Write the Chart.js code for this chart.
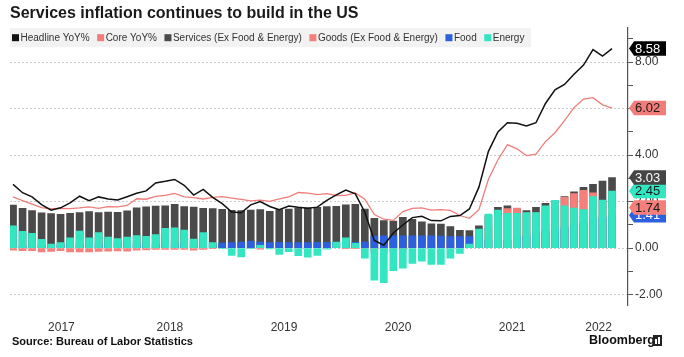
<!DOCTYPE html>
<html>
<head>
<meta charset="utf-8">
<script src="https://cdn.jsdelivr.net/npm/chart.js@4.4.0/dist/chart.umd.min.js"></script>
<style>
html,body{margin:0;padding:0;background:#ffffff;}
#wrap{width:684px;height:357px;position:relative;}
</style>
</head>
<body>
<div id="wrap"><canvas id="c" width="684" height="357"></canvas></div>
<script>
// ---------- DATA ----------
const months = [
  '2017-02','2017-03','2017-04','2017-05','2017-06','2017-07','2017-08','2017-09','2017-10','2017-11','2017-12',
  '2018-01','2018-02','2018-03','2018-04','2018-05','2018-06','2018-07','2018-08','2018-09','2018-10','2018-11','2018-12',
  '2019-01','2019-02','2019-03','2019-04','2019-05','2019-06','2019-07','2019-08','2019-09','2019-10','2019-11','2019-12',
  '2020-01','2020-02','2020-03','2020-04','2020-05','2020-06','2020-07','2020-08','2020-09','2020-10','2020-11','2020-12',
  '2021-01','2021-02','2021-03','2021-04','2021-05','2021-06','2021-07','2021-08','2021-09','2021-10','2021-11','2021-12',
  '2022-01','2022-02','2022-03','2022-04','2022-05'
];
const headline = [
  2.74,2.38,2.20,1.87,1.63,1.73,1.94,2.23,2.04,2.20,2.11,
  2.07,2.21,2.36,2.46,2.80,2.87,2.95,2.70,2.28,2.52,2.18,1.91,
  1.55,1.52,1.86,2.00,1.79,1.65,1.81,1.75,1.71,1.76,2.05,2.29,
  2.49,2.33,1.54,0.33,0.12,0.65,0.99,1.31,1.37,1.18,1.17,1.36,
  1.40,1.68,2.62,4.16,4.99,5.39,5.37,5.25,5.39,6.22,6.81,7.04,
  7.48,7.87,8.54,8.26,8.58
];
const core = [
  2.20,2.04,1.89,1.74,1.69,1.71,1.70,1.73,1.77,1.71,1.78,
  1.77,1.83,2.12,2.10,2.22,2.27,2.35,2.20,2.17,2.11,2.18,2.21,
  2.15,2.09,2.03,2.06,2.01,2.12,2.20,2.39,2.36,2.30,2.34,2.26,
  2.27,2.37,2.10,1.44,1.24,1.19,1.57,1.71,1.73,1.63,1.65,1.62,
  1.40,1.28,1.65,2.96,3.80,4.45,4.27,3.98,4.04,4.58,4.96,5.48,
  6.04,6.41,6.47,6.16,6.02
];
const services = [
  1.85,1.71,1.61,1.52,1.48,1.45,1.49,1.53,1.57,1.53,1.55,
  1.54,1.60,1.73,1.77,1.80,1.82,1.88,1.78,1.76,1.71,1.70,1.67,
  1.62,1.61,1.63,1.66,1.58,1.65,1.68,1.72,1.73,1.75,1.78,1.79,
  1.86,1.88,1.68,1.28,1.18,1.16,1.32,1.23,1.13,1.04,1.03,0.92,
  0.76,0.75,0.96,1.40,1.75,1.82,1.68,1.61,1.75,1.92,2.00,2.21,
  2.42,2.61,2.74,2.88,3.03
];
const goods = [
  -0.09,-0.11,-0.11,-0.17,-0.14,-0.11,-0.17,-0.17,-0.17,-0.14,-0.13,
  -0.12,-0.13,-0.09,-0.08,-0.06,-0.06,-0.06,-0.06,-0.09,-0.06,-0.03,0.02,
  0.05,0.04,0.03,-0.05,0.02,0.03,0.06,0.08,0.08,0.05,0.03,0.02,
  -0.02,-0.02,-0.05,-0.18,-0.20,-0.16,-0.08,0.08,0.13,0.12,0.12,0.13,
  0.08,0.03,0.18,0.93,1.35,1.70,1.72,1.50,1.52,1.72,1.95,2.18,
  2.34,2.48,2.38,2.00,1.74
];
const food = [
  0.03,0.07,0.07,0.12,0.12,0.15,0.15,0.17,0.18,0.19,0.22,
  0.23,0.19,0.18,0.19,0.17,0.19,0.19,0.19,0.19,0.17,0.19,0.21,
  0.23,0.26,0.29,0.26,0.24,0.25,0.24,0.24,0.24,0.25,0.25,0.25,
  0.25,0.25,0.26,0.52,0.53,0.53,0.53,0.53,0.53,0.53,0.52,0.49,
  0.49,0.49,0.48,0.34,0.31,0.33,0.46,0.51,0.63,0.73,0.84,0.87,
  0.97,1.09,1.22,1.30,1.41
];
const energy = [
  0.96,0.72,0.63,0.37,0.17,0.24,0.44,0.73,0.44,0.66,0.47,
  0.41,0.47,0.54,0.50,0.58,0.85,0.87,0.77,0.39,0.66,0.24,-0.03,
  -0.32,-0.38,-0.03,0.12,-0.04,-0.27,-0.16,-0.33,-0.39,-0.32,-0.05,0.26,
  0.44,0.20,-0.44,-1.38,-1.49,-0.97,-0.87,-0.66,-0.56,-0.70,-0.70,-0.44,
  -0.23,0.17,0.82,1.46,1.63,1.49,1.49,1.53,1.53,1.82,2.05,1.82,
  1.72,1.66,2.21,2.06,2.45
];
const yearLabels = ['2017','2018','2019','2020','2021','2022'];
const yTickValues = [-2,-1,0,1,2,3,4,5,6,7,8,9];
const seriesNames = ['Headline YoY%','Core YoY%','Services (Ex Food & Energy)','Goods (Ex Food & Energy)','Food','Energy'];

// ---------- STYLE ----------
const FONT = '"Liberation Sans", Arial, Helvetica, sans-serif';
const C = {headline:'#111111', core:'#f07d79', services:'#4a4a4a', goods:'#f47f7b', food:'#2d60de', energy:'#33e6c2'};
const X_MIN = -0.32, X_MAX = 64.68;

// month index helpers
const baseY = +months[0].slice(0,4), baseM = +months[0].slice(5,7);
function monthIdx(y, m){ return (y - baseY) * 12 + (m - baseM); }
function yearCenter(yr){
  const y = +yr;
  const a = Math.max(monthIdx(y,1) - 0.5, X_MIN);
  const b = Math.min(monthIdx(y,12) + 0.5, X_MAX);
  return (a + b) / 2;
}
const pts = arr => arr.map((v,i) => { const [y,m] = months[i].split('-').map(Number); return {x: monthIdx(y,m), y: v}; });

Chart.defaults.font.family = FONT;
Chart.defaults.color = '#333333';

// legend drawn inside the plot area with a grey band
const boxLegend = {
  id: 'boxLegend',
  afterDraw(chart){
    const ctx = chart.ctx;
    ctx.save();
    ctx.font = '10px ' + FONT;
    const ds = chart.data.datasets;
    const widths = ds.map(d => ctx.measureText(d.label).width);
    const sq = 7, gapT = 1.5, gapI = 7.5;
    let total = 0;
    widths.forEach(w => total += sq + gapT + w + gapI);
    const left = chart.chartArea.left, top = chart.chartArea.top + 1;
    ctx.fillStyle = '#f2f2f2';
    ctx.fillRect(left, top, total + 1, 19);
    let x = left + 2; const yc = top + 9.5;
    ds.forEach((d,i) => {
      ctx.fillStyle = d.legendColor;
      ctx.fillRect(x, yc - sq/2, sq, sq);
      ctx.fillStyle = '#333333';
      ctx.textBaseline = 'middle';
      ctx.textAlign = 'left';
      ctx.fillText(d.label, x + sq + gapT, yc + 0.5);
      x += sq + gapT + widths[i] + gapI;
    });
    ctx.restore();
  }
};

// right-hand value tags
const valueTags = {
  id: 'valueTags',
  afterDraw(chart){
    const ctx = chart.ctx, ys = chart.scales.y;
    const last = a => a[a.length - 1];
    const tags = [
      {v: last(food), bg: C.food, fg: '#ffffff'},
      {v: last(goods), bg: C.goods, fg: '#1a1a1a'},
      {v: last(energy), bg: C.energy, fg: '#1a1a1a'},
      {v: last(services), bg: '#454545', fg: '#ffffff'},
      {v: last(core), bg: C.core, fg: '#1a1a1a'},
      {v: last(headline), bg: '#000000', fg: '#ffffff'}
    ];
    const x0 = chart.chartArea.right + 1, h = 14.5, w = 37, tip = 5;
    ctx.save();
    ctx.font = '13px ' + FONT;
    tags.forEach(t => {
      const py = ys.getPixelForValue(t.v);
      ctx.beginPath();
      ctx.moveTo(x0, py);
      ctx.lineTo(x0 + tip, py - h/2);
      ctx.lineTo(x0 + w, py - h/2);
      ctx.lineTo(x0 + w, py + h/2);
      ctx.lineTo(x0 + tip, py + h/2);
      ctx.closePath();
      ctx.fillStyle = t.bg;
      ctx.fill();
      ctx.fillStyle = t.fg;
      ctx.textBaseline = 'middle';
      ctx.textAlign = 'left';
      ctx.fillText(t.v.toFixed(2), x0 + tip + 1, py + 0.5);
    });
    ctx.restore();
  }
};

// footer: source + brand
const footer = {
  id: 'footer',
  afterDraw(chart){
    const ctx = chart.ctx;
    ctx.save();
    ctx.textBaseline = 'middle';
    ctx.fillStyle = '#111111';
    ctx.font = 'bold 11px ' + FONT;
    ctx.textAlign = 'left';
    ctx.fillText('Source: Bureau of Labor Statistics', 12, 342);
    ctx.font = 'bold 12.5px ' + FONT;
    ctx.fillText('Bloomberg', 589, 341);
    // small logo mark
    ctx.fillStyle = '#222222';
    ctx.fillRect(653, 335, 9, 11);
    ctx.fillStyle = '#ffffff';
    ctx.fillRect(655, 339, 2, 5);
    ctx.fillRect(658, 337, 2, 7);
    ctx.restore();
  }
};

const barDS = (label, data, color, order) => ({
  type: 'bar', label, data: pts(data), backgroundColor: color, legendColor: color,
  borderWidth: 0, barThickness: 7, order
});

new Chart(document.getElementById('c'), {
  type: 'bar',
  data: {
    datasets: [
      {type:'line', label: seriesNames[0], data: pts(headline), borderColor: C.headline, backgroundColor: C.headline, legendColor: C.headline, borderWidth: 1.5, pointRadius: 0, tension: 0, order: 0},
      {type:'line', label: seriesNames[1], data: pts(core), borderColor: C.core, backgroundColor: C.core, legendColor: C.core, borderWidth: 1.3, pointRadius: 0, tension: 0, order: 1},
      barDS(seriesNames[2], services, C.services, 5),
      barDS(seriesNames[3], goods, C.goods, 4),
      barDS(seriesNames[4], food, C.food, 3),
      barDS(seriesNames[5], energy, C.energy, 2)
    ]
  },
  options: {
    responsive: false,
    animation: false,
    devicePixelRatio: 1,
    layout: {padding: {left: 10, right: 0, top: 0, bottom: 22}},
    plugins: {
      legend: {display: false},
      tooltip: {enabled: false},
      title: {
        display: true, text: 'Services inflation continues to build in the US', align: 'start',
        color: '#1a1a1a', font: {size: 16, weight: 'bold', family: FONT}, padding: {top: 4, bottom: 4}
      }
    },
    scales: {
      x: {
        type: 'linear', min: X_MIN, max: X_MAX, stacked: true, offset: false,
        grid: {display: false, drawTicks: false, offset: false},
        border: {display: false},
        afterBuildTicks: s => { s.ticks = yearLabels.map(yr => ({value: yearCenter(yr)})); },
        afterFit: s => { s.height = 30; },
        ticks: {
          callback: (v, i) => yearLabels[i], autoSkip: false, maxRotation: 0,
          padding: 15, color: '#333333', font: {size: 12}
        }
      },
      y: {
        position: 'right', min: -2.45, max: 9.5, stacked: false,
        afterBuildTicks: s => { s.ticks = yTickValues.map(v => ({value: v})); },
        afterFit: s => { s.width = 56; },
        ticks: {
          callback: v => (v % 2 === 0 ? v.toFixed(2) : ''), autoSkip: false,
          padding: 2, color: '#333333', font: {size: 12}
        },
        grid: {
          color: c => (c.tick && c.tick.value % 2 === 0 ? '#cccccc' : 'rgba(0,0,0,0)'),
          lineWidth: 1, drawTicks: true, tickLength: 5, tickColor: '#555555', tickWidth: 1
        },
        border: {display: true, color: '#555555', width: 1.2, dash: [2, 2]}
      }
    }
  },
  plugins: [boxLegend, valueTags, footer]
});
</script>
</body>
</html>
